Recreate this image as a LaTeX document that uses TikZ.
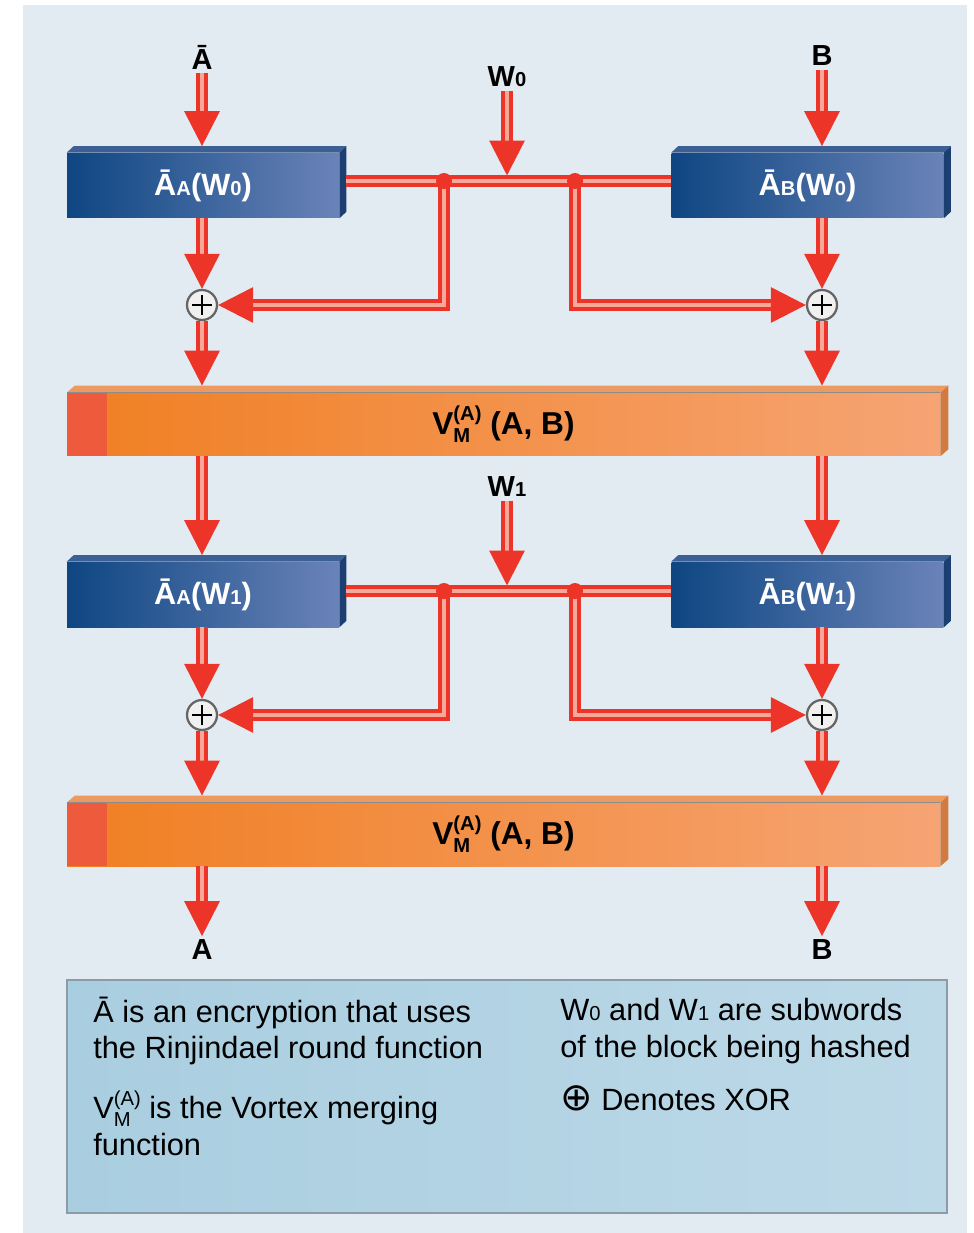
\documentclass[tikz,border=0pt]{standalone}
\usepackage{fontspec}
\setmainfont{Liberation Sans}
\newfontfamily\symfont{DejaVu Sans}
\usetikzlibrary{arrows.meta,positioning}

\definecolor{paneblue}{HTML}{E3EBF2}
\definecolor{pipered}{HTML}{EC3528}
\definecolor{pipepink}{HTML}{F8A898}
\definecolor{boxdark}{HTML}{0E4682}
\definecolor{boxmid}{HTML}{2A5B9A}
\definecolor{boxlight}{HTML}{6A83B8}
\definecolor{boxtopc}{HTML}{3C5F94}
\definecolor{boxsidec}{HTML}{1B3F70}
\definecolor{barorange}{HTML}{F07F22}
\definecolor{barmid}{HTML}{F1852A}
\definecolor{barlight}{HTML}{F6A474}
\definecolor{barred}{HTML}{EE5A3C}
\definecolor{bartopc}{HTML}{EC9A62}
\definecolor{barsidec}{HTML}{D27A40}
\definecolor{notea}{HTML}{A9CEE0}
\definecolor{noteb}{HTML}{B3C7DE}
\definecolor{notec}{HTML}{BDD9E8}
\definecolor{noteedge}{HTML}{8C9BA8}

\newcommand{\low}[1]{{\fontsize{11.5}{11.5}\selectfont #1}}
\newcommand{\vmlabel}{V\rlap{\raisebox{-0.5ex}{\low{M}}}\raisebox{0.8ex}{\low{(A)}} (A, B)}

\tikzset{
  plainpipe/.style={draw=pipered, line width=1.8pt, double=pipepink, double distance=2.8pt},
  pipe/.style={plainpipe, -{Triangle[length=0.7cm,width=0.7cm]}},
  lbl/.style={font=\bfseries\fontsize{16.5}{16.5}\selectfont, inner sep=2pt},
  encbox/.style={minimum width=5.44cm, minimum height=1.3cm, inner sep=0pt,
    left color=boxdark, middle color=boxmid, right color=boxlight,
    text=white, font=\bfseries\fontsize{17.5}{17.5}\selectfont},
  mergebar/.style={minimum width=17.46cm, minimum height=1.26cm, inner sep=0pt,
    left color=barorange, middle color=barmid, right color=barlight,
    font=\bfseries\fontsize{18}{18}\selectfont},
  xor/.style={circle, draw=black!60, line width=1.3pt, fill=black!6,
    minimum size=0.6cm, inner sep=0pt,
    path picture={\draw[black, line width=0.6pt]
      ([xshift=-0.2cm]path picture bounding box.center) -- ([xshift=0.2cm]path picture bounding box.center)
      ([yshift=-0.2cm]path picture bounding box.center) -- ([yshift=0.2cm]path picture bounding box.center);}},
  notebox/.style={minimum width=17.6cm, minimum height=4.66cm, draw=noteedge, line width=1pt,
    left color=notea, middle color=noteb, right color=notec},
  notetext/.style={font=\fontsize{17.5}{21}\selectfont, align=left, inner sep=0pt, anchor=west}
}

\begin{document}
\begin{tikzpicture}[x=0.02cm, y=-0.02cm]
\useasboundingbox (0,0) rectangle (973,1233);
\fill[paneblue] (23,5) rectangle (967,1233);

% inputs and first round
\node[lbl] (ina) at (202,57) {Ā};
\node[lbl] (inb) at (822,56) {B};
\node[lbl] (w0) at (507,77) {W\low{0}};
\node[encbox] (ea0) at (203,185.5) {Ā\low{A}(W\low{0})};
\node[encbox] (eb0) at (807.5,185.5) {Ā\low{B}(W\low{0})};
\coordinate (ja0) at (444,181);
\coordinate (jb0) at (575,181);
\node[xor] (xa0) at (202,305) {};
\node[xor] (xb0) at (822,305) {};
\node[mergebar] (vm0) at (503.5,424.5) {\vmlabel};

% second round
\node[lbl] (w1) at (507,487) {W\low{1}};
\node[encbox] (ea1) at (203,594.5) {Ā\low{A}(W\low{1})};
\node[encbox] (eb1) at (807.5,594.5) {Ā\low{B}(W\low{1})};
\coordinate (ja1) at (444,591);
\coordinate (jb1) at (575,591);
\node[xor] (xa1) at (202,715) {};
\node[xor] (xb1) at (822,715) {};
\node[mergebar] (vm1) at (503.5,834.5) {\vmlabel};

% outputs
\node[lbl] (outa) at (202,950) {A};
\node[lbl] (outb) at (822,950) {B};

% 3d faces
\foreach \b in {ea0,eb0,ea1,eb1} {
  \fill[boxtopc] (\b.north west) -- ++(0.14cm,0.13cm) -- ([shift={(0.14cm,0.13cm)}]\b.north east) -- (\b.north east) -- cycle;
  \fill[boxsidec] (\b.north east) -- ++(0.14cm,0.13cm) -- ([shift={(0.14cm,0.13cm)}]\b.south east) -- (\b.south east) -- cycle;
}
\foreach \b in {vm0,vm1} {
  \fill[barred] (\b.north west) rectangle ([xshift=0.8cm]\b.south west);
  \fill[bartopc] (\b.north west) -- ++(0.16cm,0.14cm) -- ([shift={(0.16cm,0.14cm)}]\b.north east) -- (\b.north east) -- cycle;
  \fill[barsidec] (\b.north east) -- ++(0.16cm,0.14cm) -- ([shift={(0.16cm,0.14cm)}]\b.south east) -- (\b.south east) -- cycle;
  \draw[black!45, line width=0.6pt] (\b.north west) -- (\b.north east);
}

% connectors
\draw[pipe] (ina) -- ([yshift=0.13cm]ina |- ea0.north);
\draw[pipe] (inb) -- ([yshift=0.13cm]inb |- eb0.north);
\foreach \r in {0,1} {
  \draw[plainpipe] ([xshift=0.14cm]ea\r.east |- ja\r) -- (eb\r.west |- ja\r);
  \draw[pipe] (w\r) -- ([yshift=0.11cm]w\r |- ja\r);
  \draw[pipe] (ja\r) -- (ja\r |- xa\r) -- (xa\r);
  \draw[pipe] (jb\r) -- (jb\r |- xb\r) -- (xb\r);
  \draw[pipe] (xa\r |- ea\r.south) -- (xa\r);
  \draw[pipe] (xb\r |- eb\r.south) -- (xb\r);
  \draw[pipe] (xa\r) -- ([yshift=0.14cm]xa\r |- vm\r.north);
  \draw[pipe] (xb\r) -- ([yshift=0.14cm]xb\r |- vm\r.north);
  \fill[pipered] (ja\r) circle (0.16cm);
  \fill[pipered] (jb\r) circle (0.16cm);
}
\draw[pipe] (xa0 |- vm0.south) -- ([yshift=0.13cm]xa0 |- ea1.north);
\draw[pipe] (xb0 |- vm0.south) -- ([yshift=0.13cm]xb0 |- eb1.north);
\draw[pipe] (xa1 |- vm1.south) -- (outa);
\draw[pipe] (xb1 |- vm1.south) -- (outb);

% legend
\node[notebox] (note) at (507,1096.5) {};
\node[notetext] (enc) at (93,1031) {Ā is an encryption that uses\\the Rinjindael round function};
\node[notetext] (merge) at (93,1123) {V\rlap{\raisebox{-0.5ex}{\low{M}}}\raisebox{0.8ex}{\low{(A)}} is the Vortex merging\\function};
\node[notetext] (sub) at (560,1031) {W\low{0} and W\low{1} are subwords\\of the block being hashed};
\node[notetext] (xorkey) at (560,1098) {{\symfont\fontsize{22}{21}\selectfont ⊕} Denotes XOR};
\end{tikzpicture}
\end{document}
